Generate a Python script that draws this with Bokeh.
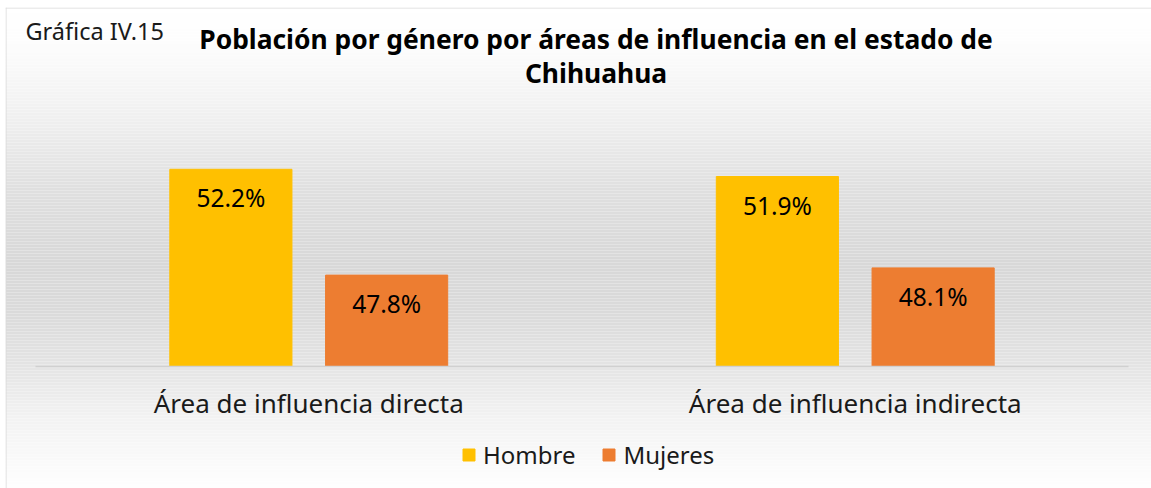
import numpy as np
from bokeh.plotting import figure
from bokeh.models import ColumnDataSource, FactorRange, Range1d, Label, Legend, LegendItem, Span
from bokeh.transform import dodge
from bokeh.core.properties import value
from bokeh.embed import file_html
from bokeh.resources import INLINE

# ---- data ----
categories = ["Área de influencia directa", "Área de influencia indirecta"]
series_names = ["Hombre", "Mujeres"]
hombre = [52.2, 51.9]
mujeres = [47.8, 48.1]
hombre_labels = ["52.2%", "51.9%"]
mujeres_labels = ["47.8%", "48.1%"]
chart_number = "Gráfica IV.15"
title_lines = ["Población por género por áreas de influencia en el estado de", "Chihuahua"]

# ---- layout helpers ----
AXIS_MIN = 44.0
PX_PER_UNIT = 24.05
W, H = 1151, 488
FL, FT = 5, 7            # frame left / top (page px)
FRAME_BOTTOM, BASE = 488, 366
PAD = 0.04849            # category padding (each side)
UNIT = (W - FL) / (2 + 2 * PAD)
SHIFT = 3.5 / UNIT
FONT = "Noto Sans"


def yv(page_y):
    return AXIS_MIN + (BASE - page_y) / PX_PER_UNIT


p = figure(width=W, height=H,
           x_range=FactorRange(factors=categories, range_padding=PAD * 2 / 2, range_padding_units="percent"),
           y_range=Range1d(yv(FRAME_BOTTOM), yv(FT)),
           output_backend="svg", toolbar_location=None,
           x_axis_location=None, y_axis_location=None,
           min_border_left=FL, min_border_top=FT, min_border_right=0, min_border_bottom=0,
           border_fill_color="white", background_fill_color="white",
           outline_line_color=None)
p.grid.visible = False

# ---- vertical gradient background ----
stops_y = [7, 50, 110, 190, 260, 310, 366, 420, 488]
stops_v = [255, 252, 241, 223, 216, 218, 228, 243, 254]
edges = np.arange(7, 491, 3)
mids = (edges[:-1] + edges[1:]) / 2
vals = np.interp(mids, stops_y, stops_v).round().astype(int)
cols = ["#%02x%02x%02x" % (v, v, v) for v in vals]
p.hstrip(y0=[yv(e) for e in edges[1:]], y1=[yv(e) for e in edges[:-1]],
         fill_color=cols, line_color=None)

# chart border (top + left)
p.add_layout(Span(location=yv(FT + 0.5), dimension="width", line_color="#d9d9d9", line_width=1))
p.add_layout(Span(location=-PAD + 0.5 / UNIT, dimension="height", line_color="#d9d9d9", line_width=1))

src = ColumnDataSource(dict(cat=categories, hombre=hombre, mujeres=mujeres,
                            hl=hombre_labels, ml=mujeres_labels))

OFF = 0.1425
BW = 0.2235
r1 = p.vbar(x=dodge("cat", -OFF + SHIFT, range=p.x_range), top="hombre", bottom=AXIS_MIN, width=BW,
            fill_color="#FFC000", line_color="#FFC000", source=src)
r2 = p.vbar(x=dodge("cat", OFF + SHIFT, range=p.x_range), top="mujeres", bottom=AXIS_MIN, width=BW,
            fill_color="#ED7D31", line_color="#ED7D31", source=src)

# axis line
p.segment(x0=[0 + SHIFT], x1=[2 + SHIFT], y0=[AXIS_MIN], y1=[AXIS_MIN], line_color="#d0d0d0", line_width=1.5)

# data labels
for xoff, col, ycol in ((-OFF, "hl", "hombre"), (OFF, "ml", "mujeres")):
    p.text(x=dodge("cat", xoff + SHIFT, range=p.x_range), y=ycol,
           text=col, source=src, text_align="center", text_baseline="middle", y_offset=28.5,
           text_font=value(FONT), text_font_size="24.5px", text_color="#000000")

# category labels
p.text(x=dodge("cat", SHIFT, range=p.x_range), y=AXIS_MIN, text="cat", source=src,
       text_align="center", text_baseline="middle",
       y_offset=36, text_font=value(FONT), text_font_size="26px", text_color="#1a1a1a")


def scr(px, py):
    return dict(x=px - FL, y=FRAME_BOTTOM - py, x_units="screen", y_units="screen")


# title texts
p.add_layout(Label(**scr(25, 30), text=chart_number, text_font=FONT, text_font_size="23.5px",
                   text_baseline="middle", text_color="#1a1a1a"))
p.add_layout(Label(**scr(595.5, 38.5), text=title_lines[0], text_font=FONT, text_font_size="26.4px",
                   text_font_style="bold", text_align="center", text_baseline="middle",
                   text_color="#000000"))
p.add_layout(Label(**scr(595.5, 72), text=title_lines[1], text_font=FONT, text_font_size="26.4px",
                   text_font_style="bold", text_align="center", text_baseline="middle",
                   text_color="#000000"))

legend = Legend(items=[LegendItem(label=series_names[0], renderers=[r1]),
                       LegendItem(label=series_names[1], renderers=[r2])],
                orientation="horizontal", location=(461 - FL, 17.5),
                glyph_width=15, glyph_height=15, label_standoff=7, spacing=26,
                padding=0, margin=0, border_line_color=None, background_fill_alpha=0,
                label_text_font=FONT, label_text_font_size="24px", label_text_color="#1a1a1a")
p.add_layout(legend, "center")

open("out.html", "w").write(file_html(p, INLINE))
